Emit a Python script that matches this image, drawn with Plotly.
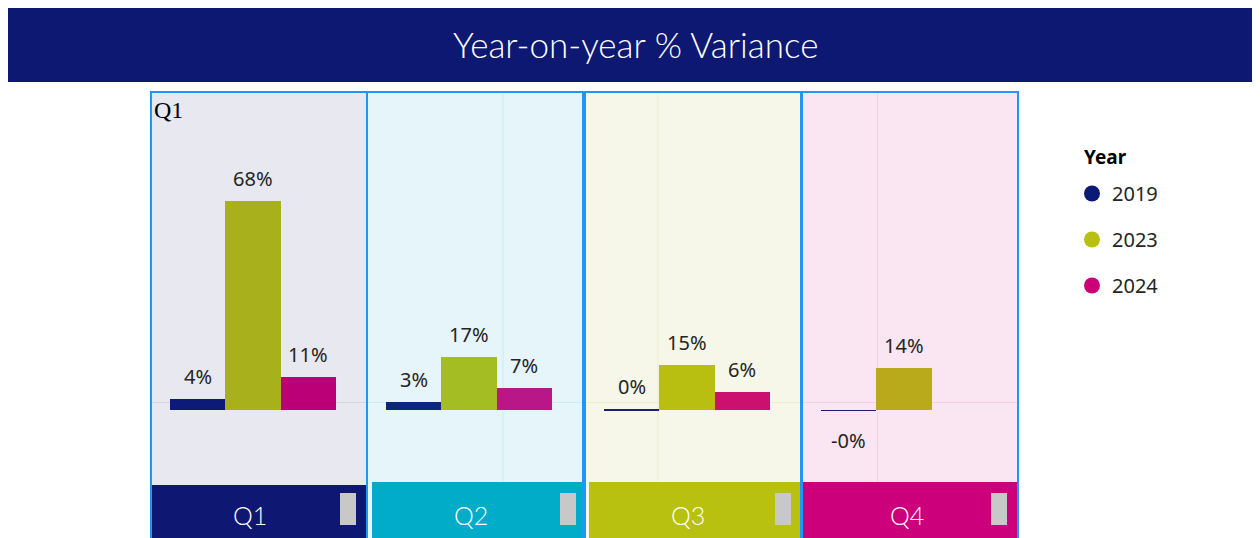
import plotly.graph_objects as go

W, H = 1260, 538

quarters = ['Q1', 'Q2', 'Q3', 'Q4']
years = ['2019', '2023', '2024']
var_2019 = [3.6, 2.6, 0.4, -0.3]
var_2023 = [68.0, 17.3, 14.7, 13.7]
var_2024 = [10.7, 7.2, 5.8, None]

year_colors = ['#0d1a75', '#b7bf10', '#cc0077']
# bars pick up a tint from each panel's background
bar_colors = [
    ['#0e1a77', '#a8b01b', '#bb0077'],
    ['#0c2680', '#a4bd22', '#b91687'],
    ['#1a1f70', '#b8bf10', '#cc1070'],
    ['#1d1d6e', '#b9aa1b', '#cc0077'],
]
panel_bg = ['#e8e8f1', '#e5f5fa', '#f6f7e8', '#fae6f2']
grid_col = ['#d5d5e4', '#c9eef5', '#eaefd2', '#f3cfe2']
box_col = ['#0e1873', '#00acc7', '#b8c010', '#cc007a']
border_col = '#2196f3'

# the page puts an 8px margin round the figure, so pixel spots measured
# on the screenshot are moved back by 8
OFF = 8


def px(x):
    return (x - OFF) / W


def py(y):
    return 1 - (y - OFF) / H


panel_left = [151, 367, 585, 802]
panel_w = 216
vline_at = [None, 0.63, 0.338, 0.35]
box_x = [(152, 366), (372, 586), (589, 801), (803, 1017)]
box_top = [485, 482, 482, 482]
label_x = [250, 471, 688, 907]

fig = go.Figure()
shapes, annotations = [], []

# title banner
shapes.append(dict(type='rect', xref='paper', yref='paper', x0=px(8), x1=px(1258),
                   y0=py(82), y1=py(7), fillcolor='#0d1872', line_width=0, layer='below'))
annotations.append(dict(xref='paper', yref='paper', x=px(635), y=py(44),
                        text='Year-on-year % Variance', showarrow=False,
                        xanchor='center', yanchor='middle',
                        font=dict(family='Lato', weight=300, size=35, color='white')))

for i, q in enumerate(quarters):
    n = '' if i == 0 else str(i + 1)
    vals = [var_2019[i], var_2023[i], var_2024[i]]
    fig.add_trace(go.Bar(
        x=years, y=vals, width=1, xaxis='x' + n, yaxis='y' + n,
        marker=dict(color=bar_colors[i], line_width=0), showlegend=False,
        hovertemplate=q + ' %{x}: %{y:.1f}%<extra></extra>',
    ))
    l = panel_left[i]
    fig.update_layout(**{
        'xaxis' + n: dict(domain=[px(l), px(l + panel_w)], range=[-0.842, 3.059],
                          type='category', categoryarray=years, anchor='y' + n,
                          showticklabels=False, showgrid=False, zeroline=False,
                          fixedrange=True),
        'yaxis' + n: dict(domain=[py(482), py(92)], range=[-23.45, 103.6],
                          anchor='x' + n, showticklabels=False, zeroline=False,
                          tickvals=[2.6], showgrid=True, gridcolor=grid_col[i],
                          gridwidth=1, fixedrange=True),
    })
    # panel background
    shapes.append(dict(type='rect', xref='paper', yref='paper', x0=px(l), x1=px(l + panel_w),
                       y0=0, y1=py(92), fillcolor=panel_bg[i], line_width=0, layer='below'))
    if vline_at[i] is not None:
        shapes.append(dict(type='line', xref='x' + n + ' domain', yref='paper',
                           x0=vline_at[i], x1=vline_at[i], y0=py(482), y1=py(92),
                           line=dict(color=grid_col[i], width=1), layer='below'))
    # quarter label box
    bx0, bx1 = box_x[i]
    shapes.append(dict(type='rect', xref='paper', yref='paper', x0=px(bx0), x1=px(bx1),
                       y0=-0.05, y1=py(box_top[i]), fillcolor=box_col[i], line_width=0,
                       layer='above'))
    shapes.append(dict(type='rect', xref='paper', yref='paper', x0=px(bx1 - 26),
                       x1=px(bx1 - 10), y0=py(525), y1=py(493), fillcolor='#c8c8c8',
                       line_width=0, layer='above'))
    # panel border
    shapes.append(dict(type='rect', xref='paper', yref='paper', x0=px(l), x1=px(l + panel_w),
                       y0=-0.05, y1=py(92), fillcolor='rgba(0,0,0,0)',
                       line=dict(color=border_col, width=2), layer='above'))
    annotations.append(dict(xref='paper', yref='paper', x=px(label_x[i]), y=py(515),
                            text=q, showarrow=False, xanchor='center', yanchor='middle',
                            font=dict(family='Lato', weight=300, size=25, color='white')))
    # data labels
    for j, v in enumerate(vals):
        if v is None:
            continue
        annotations.append(dict(xref='x' + n, yref='y' + n, x=j, y=v,
                                text=f'{v:.0f}%', showarrow=False, xanchor='center',
                                yanchor='bottom' if v >= 0 else 'top',
                                yshift=7 if v >= 0 else -14,
                                font=dict(family='Noto Sans', size=20, color='#252423')))

annotations.append(dict(xref='paper', yref='paper', x=px(152), y=py(95), text='Q1',
                        showarrow=False, xanchor='left', yanchor='top',
                        font=dict(family='Liberation Serif', size=24, color='black')))
annotations.append(dict(xref='paper', yref='paper', x=px(1082), y=py(157), text='<b>Year</b>',
                        showarrow=False, xanchor='left', yanchor='middle',
                        font=dict(family='Noto Sans', size=19, color='black')))

# legend entries
for yr, c in zip(years, year_colors):
    fig.add_trace(go.Scatter(x=[None], y=[None], mode='markers', name=yr, legendgroup=yr,
                             marker=dict(size=20, color=c, symbol='circle')))

fig.update_layout(
    width=W, height=H, margin=dict(l=0, r=0, t=0, b=0),
    paper_bgcolor='white', plot_bgcolor='rgba(0,0,0,0)',
    bargap=0, shapes=shapes, annotations=annotations,
    legend=dict(x=px(1072), y=py(174), xanchor='left', yanchor='top',
                font=dict(family='Noto Sans', size=20, color='#252423'),
                tracegroupgap=17, bgcolor='rgba(0,0,0,0)'),
)

fig.write_html('out.html')
